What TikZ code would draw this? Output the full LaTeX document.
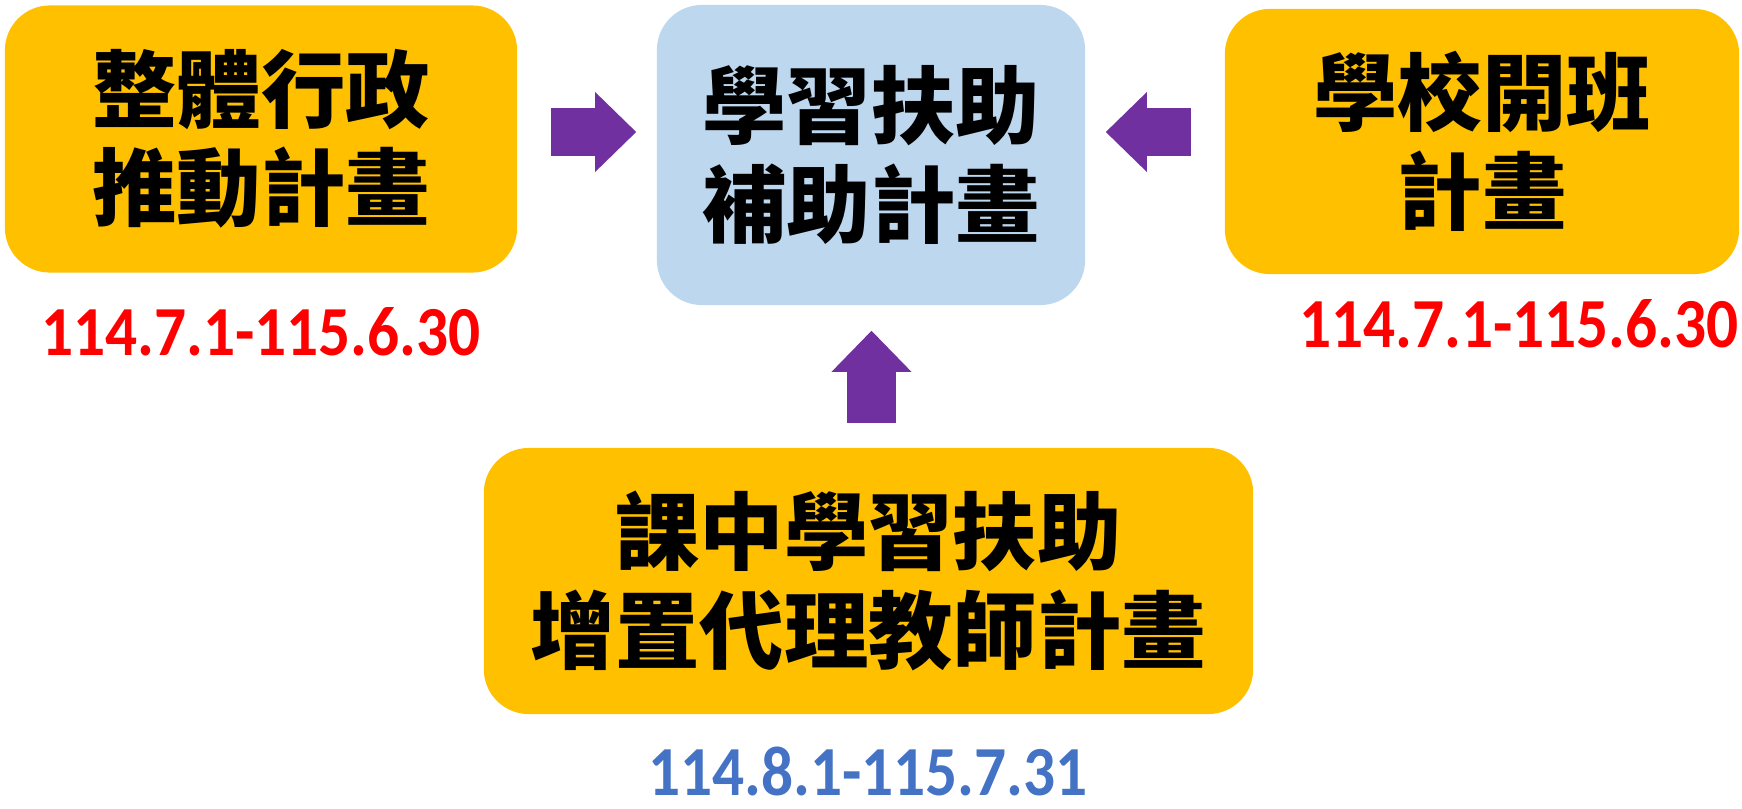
\documentclass[tikz,border=0pt]{standalone}
\usepackage{fontspec}
\usepackage{color}
\usepackage{tikz}
\usetikzlibrary{arrows.meta}

\newfontfamily\cjk{Noto Sans CJK TC}
\newfontfamily\datefont{Carlito}[FakeStretch=0.9]

\definecolor{plangold}{HTML}{FFC000}
\definecolor{coreblue}{HTML}{BDD7EE}
\definecolor{arrowpurple}{HTML}{7030A0}
\definecolor{datered}{HTML}{FF0000}
\definecolor{dateblue}{HTML}{4472C4}

\begin{document}
\begin{tikzpicture}[x=0.01cm, y=-0.01cm,
  plan/.style={rectangle, rounded corners=0.45cm, fill=plangold, inner sep=0pt,
    align=center, font=\cjk\bfseries\fontsize{24pt}{28pt}\selectfont},
  date/.style={inner sep=0pt, font=\datefont\bfseries\fontsize{20pt}{22pt}\selectfont},
  bigarrow/.style={arrowpurple, line width=13.7pt,
    -{Triangle[length=11.7pt, width=22.8pt, line width=0pt]}}]
\useasboundingbox (0,0) rectangle (1742,808);

\node[plan, minimum width=5.12cm, minimum height=2.67cm] at (261,139) (admin) {整體行政\\推動計畫};
\node[plan, fill=coreblue, minimum width=4.28cm, minimum height=3.0cm] at (871,155) (core) {學習扶助\\補助計畫};
\node[plan, minimum width=5.14cm, minimum height=2.65cm] at (1482,141.5) (school) {學校開班\\計畫};
\node[plan, minimum width=7.69cm, minimum height=2.66cm] at (868.5,581) (teacher) {課中學習扶助\\增置代理教師計畫};

\node[date, text=datered] at (261,332) (admindate) {114.7.1-115.6.30};
\node[date, text=datered] at (1519,324) (schooldate) {114.7.1-115.6.30};
\node[date, text=dateblue] at (868,771) (teacherdate) {114.8.1-115.7.31};

\draw[bigarrow, shorten <=0.33cm, shorten >=0.2cm] ([yshift=0.07cm]admin.east) -- ([yshift=0.07cm]admin.east -| core.west);
\draw[bigarrow, shorten <=0.33cm, shorten >=0.2cm] ([yshift=0.095cm]school.west) -- ([yshift=0.095cm]school.west -| core.east);
\draw[bigarrow, shorten <=0.24cm, shorten >=0.25cm] ([xshift=0.03cm]teacher.north) -- ([xshift=0.03cm]teacher.north |- core.south);

\end{tikzpicture}
\end{document}
